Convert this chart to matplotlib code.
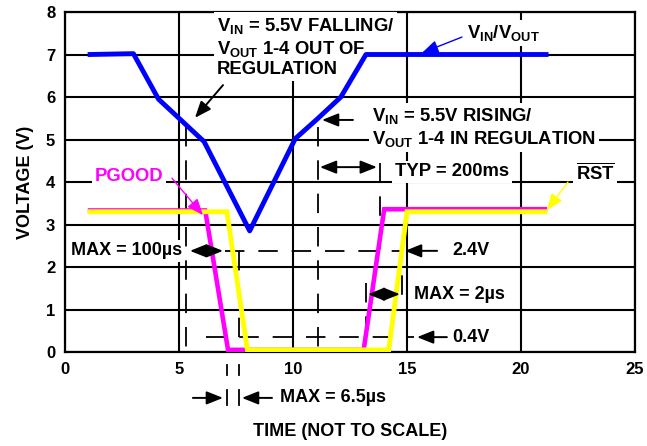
import matplotlib
matplotlib.use("Agg")
import matplotlib.pyplot as plt

plt.rcParams['font.family'] = ['Liberation Sans', 'DejaVu Sans']
plt.rcParams['font.weight'] = 'bold'
plt.rcParams['mathtext.fontset'] = 'custom'
plt.rcParams['mathtext.rm'] = 'Liberation Sans:bold'
plt.rcParams['mathtext.it'] = 'Liberation Sans:bold'
plt.rcParams['mathtext.bf'] = 'Liberation Sans:bold'
plt.rcParams['mathtext.sf'] = 'Liberation Sans:bold'
plt.rcParams['lines.scale_dashes'] = False

# data
t_vin = [1.1, 3.0, 4.1, 6.1, 8.1, 10.1, 11.1, 12.1, 13.2, 21.1]
v_vin = [7.0, 7.02, 5.95, 4.95, 2.85, 5.02, 5.5, 6.0, 7.0, 7.0]

t_pgood = [1.1, 6.15, 7.15, 13.1, 14.0, 21.05]
v_pgood = [3.33, 3.33, 0.05, 0.05, 3.36, 3.36]

t_rst = [1.1, 7.1, 8.0, 14.2, 15.0, 21.05]
v_rst = [3.3, 3.3, 0.05, 0.05, 3.3, 3.3]

x_ticks = [0, 5, 10, 15, 20, 25]
y_ticks = [0, 1, 2, 3, 4, 5, 6, 7, 8]

fs = 13.3
fs2 = 13
dash = (0, (14, 10))
box = dict(facecolor='white', edgecolor='none', pad=2)

fig = plt.figure(figsize=(6.47, 4.46), dpi=100)
ax = fig.add_axes([65 / 647, 94 / 446, 570 / 647, 340 / 446])
ax.set_xlim(0, 25)
ax.set_ylim(0, 8)
ax.set_xticks(x_ticks)
ax.set_yticks(y_ticks)
ax.tick_params(length=0, labelsize=12, pad=7)
for s in ax.spines.values():
    s.set_linewidth(1.6)
ax.set_axisbelow(True)
ax.grid(True, color='black', lw=1.5)

ax.set_ylabel('VOLTAGE (V)', fontsize=13, fontweight='bold', labelpad=9)
ax.set_xlabel('TIME (NOT TO SCALE)', fontsize=13, fontweight='bold', labelpad=33)

# signal traces
ax.plot(t_pgood, v_pgood, color='#FF00FF', lw=3.3, zorder=4, solid_joinstyle='miter')
ax.plot(t_rst, v_rst, color='#FFFF00', lw=3.5, zorder=4.5, solid_joinstyle='miter')
ax.plot(t_vin, v_vin, color='#0000FF', lw=3.5, zorder=5)

# dashed guide lines
def dline(x, y, clip=True):
    ax.plot(x, y, color='black', lw=1.3, linestyle=dash, zorder=2, clip_on=clip)

dline([7.0, 14.8], [2.38, 2.38])
dline([6.2, 15.3], [0.35, 0.35])
dline([5.3, 5.3], [5.3, 0.1])
dline([7.63, 7.63], [2.38, 0.0])
dline([11.1, 11.1], [5.3, 0.0])
dline([13.8, 13.8], [4.45, 2.25])
dline([13.2, 13.2], [1.62, 0.1])
dline([14.8, 14.8], [2.6, 1.1])
for xm in [7.1, 7.63]:
    ax.plot([xm, xm], [-0.31, -0.54], color='black', lw=1.3, clip_on=False)
    ax.plot([xm, xm], [-0.89, -1.25], color='black', lw=1.3, clip_on=False)


def arrow(head, tail, color='black', style='-|>', lw=1.4):
    ax.annotate('', xy=head, xytext=tail, annotation_clip=False,
                arrowprops=dict(arrowstyle=style + ',head_length=0.55,head_width=0.22',
                                mutation_scale=18, color=color, lw=lw,
                                shrinkA=0, shrinkB=0), zorder=6)


# labels
ax.text(6.67, 7.18, 'V$_{IN}$ = 5.5V FALLING/\nV$_{OUT}$ 1-4 OUT OF\nREGULATION',
        fontsize=fs, ha='left', va='center', linespacing=1.2, bbox=box, zorder=3)
arrow((5.70, 5.51), (6.93, 6.28))

ax.text(17.63, 7.5, 'V$_{IN}$/V$_{OUT}$', fontsize=fs, ha='left', va='center',
        bbox=box, zorder=3)
arrow((15.66, 7.04), (17.41, 7.41), color='#0000FF', lw=1.0)

ax.text(13.46, 5.28, 'V$_{IN}$ = 5.5V RISING/\nV$_{OUT}$ 1-4 IN REGULATION',
        fontsize=fs, ha='left', va='center', linespacing=1.2, bbox=box, zorder=3)
arrow((11.27, 5.46), (12.63, 5.46))

ax.text(16.97, 4.24, 'TYP = 200ms', fontsize=fs, ha='center', va='center',
        bbox=box, zorder=3)
arrow((11.18, 4.35), (13.68, 4.35), style='<|-|>')

ax.text(2.81, 4.12, 'PGOOD', fontsize=fs, color='#FF00FF', ha='center', va='center',
        bbox=box, zorder=3)
arrow((6.05, 3.22), (4.69, 4.09), color='#FF00FF', lw=1.0)

ax.text(23.25, 4.21, r'$\overline{\mathrm{RST}}$', fontsize=fs, ha='center', va='center',
        bbox=box, zorder=3)
arrow((21.14, 3.34), (22.06, 4.0), color='#FFFF00', lw=1.0)

ax.text(2.68, 2.38, 'MAX = 100µs', fontsize=fs2, ha='center', va='center',
        bbox=box, zorder=3)
arrow((5.48, 2.38), (6.93, 2.38), style='<|-|>')

ax.text(17.8, 2.38, '2.4V', fontsize=fs2, ha='center', va='center', bbox=box, zorder=3)
arrow((14.91, 2.38), (16.32, 2.38))

ax.text(17.8, 0.35, '0.4V', fontsize=fs2, ha='center', va='center', bbox=box, zorder=3)
arrow((15.44, 0.35), (16.75, 0.35))

ax.text(17.32, 1.36, 'MAX = 2µs', fontsize=fs2, ha='center', va='center',
        bbox=box, zorder=3)
arrow((13.29, 1.36), (14.69, 1.36), style='<|-|>')

ax.text(9.43, -1.08, 'MAX = 6.5µs', fontsize=fs2, ha='left', va='center',
        clip_on=False)
arrow((6.93, -1.08), (5.61, -1.08))
arrow((7.76, -1.08), (9.08, -1.08))

fig.savefig('out.png', dpi=100)
